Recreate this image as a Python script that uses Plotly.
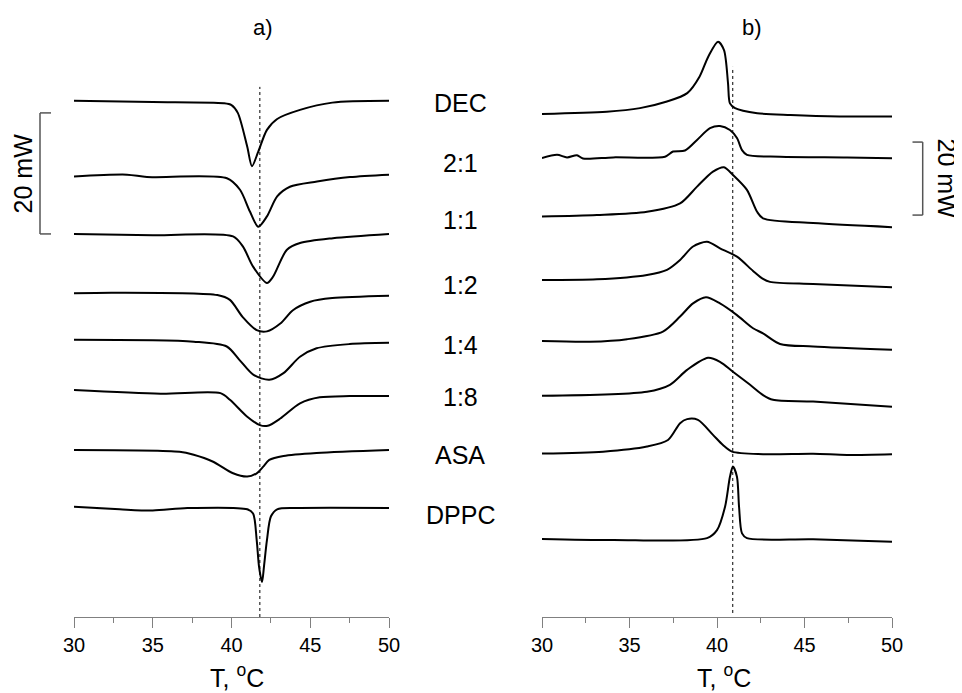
import plotly.graph_objects as go

# ---------------- data (heat flow, mW; curves stacked as in the figure) ----------------
labels = ["DEC", "2:1", "1:1", "1:2", "1:4", "1:8", "ASA", "DPPC"]

# panel a) heating
a_T = {
    "DEC":  [30, 35, 39.5, 40.0, 40.4, 41.0, 41.3, 41.7, 42.25, 42.9, 44.35, 46.4, 50],
    "2:1":  [30, 33.37, 34.63, 39.71, 40.54, 41.17, 41.7, 42.25, 42.9, 43.71, 45.43, 47.52, 50],
    "1:1":  [30, 35, 40.1, 40.73, 41.37, 42.25, 42.63, 43.52, 44.35, 46.44, 50],
    "1:2":  [30, 32.5, 39.1, 39.9, 40.7, 41.6, 42.25, 43.1, 43.9, 45.0, 46.4, 50],
    "1:4":  [30, 37.6, 39.7, 40.5, 41.4, 42.4, 43.3, 44.35, 45.4, 47.5, 50],
    "1:8":  [30, 35.5, 39.3, 39.9, 41.0, 41.8, 42.3, 43.1, 44.35, 45.6, 47.5, 50],
    "ASA":  [30, 36.7, 37.6, 38.8, 40.1, 41.0, 41.6, 42.0, 42.4, 43.3, 45.4, 50],
    "DPPC": [30, 32.9, 35.0, 37.2, 41.0, 41.37, 41.6, 41.75, 41.94, 42.06, 42.25, 42.5, 42.9, 44.35, 50],
}
a_Q = {
    "DEC":  [85.3, 85.1, 84.9, 84.6, 83.3, 77.7, 74.5, 76.9, 80.5, 82.3, 83.8, 85.0, 85.3],
    "2:1":  [72.8, 73.1, 72.7, 72.5, 70.6, 67.0, 64.5, 66.2, 69.5, 71.1, 71.95, 72.7, 73.1],
    "1:1":  [63.3, 63.1, 62.9, 61.2, 57.9, 55.2, 56.2, 60.7, 61.8, 62.6, 63.3],
    "1:2":  [53.5, 53.6, 53.2, 52.4, 49.6, 47.4, 47.2, 48.5, 50.7, 52.1, 52.7, 53.1],
    "1:4":  [45.8, 45.5, 44.7, 42.5, 40.0, 39.2, 40.3, 43.0, 44.4, 45.1, 45.3],
    "1:8":  [37.5, 36.9, 37.0, 35.9, 33.1, 31.7, 31.6, 32.8, 35.3, 36.3, 36.5, 36.5],
    "ASA":  [27.6, 27.3, 26.8, 25.7, 23.75, 23.2, 23.75, 24.8, 25.95, 26.6, 27.1, 27.6],
    "DPPC": [18.2, 17.8, 17.6, 18.0, 17.8, 17.1, 12.7, 8.3, 5.8, 8.3, 12.7, 16.6, 17.8, 18.0, 18.0],
}

# panel b) cooling
b_T = {
    "DEC":  [30, 33.7, 35.6, 37.14, 38.3, 39.0, 39.5, 40.06, 40.4, 40.63, 40.74, 41.03, 42.3, 44.2, 47.0, 50],
    "2:1":  [30, 30.86, 31.43, 32.0, 32.34, 34.06, 37.03, 37.49, 38.17, 38.86, 39.6, 40.17, 40.74, 41.14, 41.43, 41.71, 43.6, 47.43, 50],
    "1:1":  [30, 33.14, 36.0, 37.89, 38.86, 39.77, 40.4, 40.91, 41.71, 42.29, 42.63, 45.49, 50],
    "1:2":  [30, 33.14, 36.0, 37.14, 37.89, 38.63, 39.43, 40.17, 41.14, 42.06, 42.63, 43.03, 45.49, 50],
    "1:4":  [30, 32.74, 34.86, 36.91, 37.89, 38.63, 39.37, 40.17, 41.14, 42.06, 42.63, 43.6, 45.49, 50],
    "1:8":  [30, 36.0, 37.31, 38.29, 39.49, 40.17, 40.91, 41.89, 42.63, 43.2, 45.49, 50],
    "ASA":  [30, 33.49, 36.0, 37.2, 37.89, 38.29, 38.91, 39.77, 40.34, 40.86, 42.63, 45.49, 47.43, 50],
    "DPPC": [30, 34.06, 39.43, 40.0, 40.46, 40.74, 40.91, 41.14, 41.26, 41.43, 41.71, 45.49, 50],
}
b_Q = {
    "DEC":  [137.8, 138.4, 139.4, 141.2, 143.5, 148.0, 153.5, 157.6, 155.3, 146.2, 140.7, 139.4, 138.0, 137.5, 137.1, 137.1],
    "2:1":  [125.7, 126.6, 125.9, 126.5, 125.6, 125.9, 126.1, 127.5, 127.8, 130.7, 133.9, 134.5, 133.4, 131.2, 127.9, 126.6, 126.1, 125.9, 125.7],
    "1:1":  [109.7, 110.1, 111.0, 113.3, 117.9, 122.0, 123.2, 121.1, 117.0, 111.0, 109.2, 107.9, 106.8],
    "1:2":  [92.3, 92.5, 93.7, 95.1, 97.8, 101.5, 102.8, 101.0, 98.7, 94.8, 92.6, 91.8, 91.2, 90.3],
    "1:4":  [75.6, 75.4, 76.1, 78.2, 82.3, 85.9, 87.6, 85.9, 82.7, 79.1, 77.7, 74.8, 74.1, 73.2],
    "1:8":  [60.6, 61.7, 63.6, 67.7, 71.0, 69.9, 67.2, 63.6, 60.8, 59.5, 59.0, 57.6],
    "ASA":  [44.8, 45.3, 46.7, 48.5, 53.1, 54.2, 54.0, 49.9, 47.1, 45.3, 44.6, 44.7, 44.4, 44.6],
    "DPPC": [21.4, 21.1, 21.6, 23.8, 30.2, 38.4, 41.2, 38.4, 30.2, 22.9, 21.6, 21.3, 20.6],
}

x_ticks = [30, 35, 40, 45, 50]
ref_T = {"a": 41.8, "b": 40.9}          # dotted reference temperatures
ref_top = {"a": 87.6, "b": 150.7}
scale_mW = 20
scale_base = {"a": 63.3, "b": 110.1}
panel_titles = ["a)", "b)"]

# ---------------- layout helpers (page is drawn with an 8 px body offset) ----------------
W, H, OFF = 962, 693, 8
def px(x):
    return (x - OFF) / W
def py(y):
    return 1 - (y - OFF) / H

FONT = "Arial, Liberation Sans, sans-serif"
fig = go.Figure()

for lab in labels:
    fig.add_trace(go.Scatter(x=a_T[lab], y=a_Q[lab], mode="lines", xaxis="x", yaxis="y",
                             line=dict(color="black", width=2, shape="spline", smoothing=0.8),
                             showlegend=False, hoverinfo="skip"))
    fig.add_trace(go.Scatter(x=b_T[lab], y=b_Q[lab], mode="lines", xaxis="x2", yaxis="y2",
                             line=dict(color="black", width=2, shape="spline", smoothing=0.8),
                             showlegend=False, hoverinfo="skip"))

axis_common = dict(range=[30, 50], tickvals=x_ticks, showline=True, linecolor="#808080", linewidth=1,
                   ticks="outside", ticklen=10, tickcolor="#808080", tickwidth=1,
                   minor=dict(dtick=2.5, tick0=30, ticks="outside", ticklen=5, tickcolor="#808080", tickwidth=1,
                              showgrid=False),
                   showgrid=False, zeroline=False, fixedrange=True, automargin=False,
                   tickfont=dict(family=FONT, size=20, color="black"))

y_dom = [py(617), py(30)]
fig.update_layout(
    template="none",
    width=W, height=H,
    margin=dict(l=0, r=0, t=0, b=0, autoexpand=False),
    paper_bgcolor="white", plot_bgcolor="white",
    font=dict(family=FONT, color="black"),
    showlegend=False,
    xaxis=dict(domain=[px(74), px(389)], anchor="y", **axis_common),
    xaxis2=dict(domain=[px(542), px(892)], anchor="y2", **axis_common),
    yaxis=dict(domain=y_dom, range=[0, 97.0], visible=False, fixedrange=True, automargin=False),
    yaxis2=dict(domain=y_dom, range=[0, 160.8], visible=False, fixedrange=True, automargin=False),
)

shapes = []
shapes.append(dict(type="line", xref="x", yref="y", x0=ref_T["a"], x1=ref_T["a"], y0=0, y1=ref_top["a"],
                   line=dict(color="black", width=1, dash="dot")))
shapes.append(dict(type="line", xref="x2", yref="y2", x0=ref_T["b"], x1=ref_T["b"], y0=1.1, y1=ref_top["b"],
                   line=dict(color="black", width=1, dash="dot")))
sb_col = "#555555"
xa0, xa1 = px(40), px(51)
ya0, ya1 = scale_base["a"], scale_base["a"] + scale_mW
shapes += [
    dict(type="line", xref="paper", yref="y", x0=xa0, x1=xa0, y0=ya0, y1=ya1, line=dict(color=sb_col, width=1.5)),
    dict(type="line", xref="paper", yref="y", x0=xa0, x1=xa1, y0=ya0, y1=ya0, line=dict(color=sb_col, width=1.5)),
    dict(type="line", xref="paper", yref="y", x0=xa0, x1=xa1, y0=ya1, y1=ya1, line=dict(color=sb_col, width=1.5)),
]
xb0, xb1 = px(922.7), px(912.5)
yb0, yb1 = scale_base["b"], scale_base["b"] + scale_mW
shapes += [
    dict(type="line", xref="paper", yref="y2", x0=xb0, x1=xb0, y0=yb0, y1=yb1, line=dict(color=sb_col, width=1.5)),
    dict(type="line", xref="paper", yref="y2", x0=xb0, x1=xb1, y0=yb0, y1=yb0, line=dict(color=sb_col, width=1.5)),
    dict(type="line", xref="paper", yref="y2", x0=xb0, x1=xb1, y0=yb1, y1=yb1, line=dict(color=sb_col, width=1.5)),
]
fig.update_layout(shapes=shapes)

ann = []
label_py = [103, 163, 220, 285, 345, 397, 455, 515]
for lab, yy in zip(labels, label_py):
    ann.append(dict(text=lab, x=px(460), y=py(yy), xref="paper", yref="paper", showarrow=False,
                    xanchor="center", yanchor="middle", font=dict(family=FONT, size=25, color="black")))
ann.append(dict(text="20 mW", x=px(23), y=ya0 + scale_mW/2, xref="paper", yref="y", showarrow=False,
                textangle=-90, xanchor="center", yanchor="middle", font=dict(family=FONT, size=25, color="black")))
ann.append(dict(text="20 mW", x=px(947), y=yb0 + scale_mW/2, xref="paper", yref="y2", showarrow=False,
                textangle=90, xanchor="center", yanchor="middle", font=dict(family=FONT, size=25, color="black")))
ann.append(dict(text=panel_titles[0], x=px(263), y=py(27), xref="paper", yref="paper", showarrow=False,
                xanchor="center", yanchor="middle", font=dict(family=FONT, size=22, color="black")))
ann.append(dict(text=panel_titles[1], x=px(752), y=py(27), xref="paper", yref="paper", showarrow=False,
                xanchor="center", yanchor="middle", font=dict(family=FONT, size=22, color="black")))
for xc in [237, 724]:
    ann.append(dict(text="T, <sup>o</sup>C", x=px(xc), y=py(676), xref="paper", yref="paper", showarrow=False,
                    xanchor="center", yanchor="middle", font=dict(family=FONT, size=25, color="black")))
fig.update_layout(annotations=ann)

fig.write_html("out.html")
